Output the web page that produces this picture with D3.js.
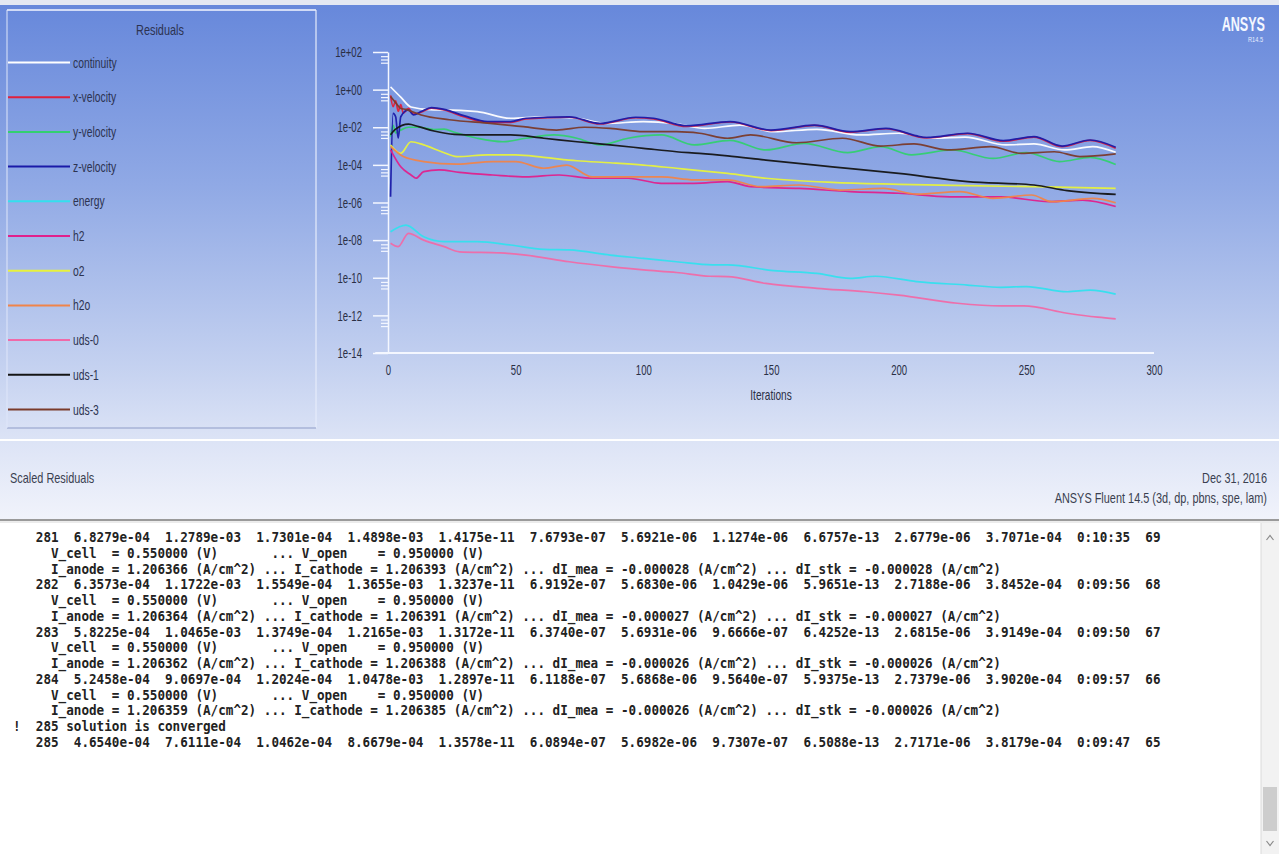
<!DOCTYPE html>
<html><head><meta charset="utf-8">
<script src="https://cdn.jsdelivr.net/npm/d3@7"></script>
<style>html,body{margin:0;padding:0;background:#e6e9f1;overflow:hidden}</style>
</head><body><svg id="c" width="1279" height="854"></svg>
<script>
// ---------- data ----------
const seriesNames = ["continuity","x-velocity","y-velocity","z-velocity","energy","h2","o2","h2o","uds-0","uds-1","uds-3"];
const seriesColors = ["#ffffff","#e0203c","#33d070","#1a1aa8","#33e0ee","#e0208c","#e8f23c","#f0844a","#f06aa8","#141414","#7a3a2a"];

const continuity = [[1,1.4e0],[5,4.0e-1],[9,1.2e-1],[18,8.3e-2],[22,8.3e-2],[35,6.8e-2],[48,3.0e-2],[61,3.6e-2],[74,3.0e-2],[86,1.6e-2],[100,2.0e-2],[113,1.5e-2],[124,8.7e-3],[138,1.3e-2],[151,5.8e-3],[168,7.8e-3],[185,3.9e-3],[200,4.8e-3],[214,2.6e-3],[226,3.0e-3],[242,1.15e-3],[253,1.3e-3],[265,6.2e-4],[276,9.3e-4],[285,4.65e-4]];
const xVelocity = [[1,5.0e-1],[2,1.26e-1],[3,2.5e-1],[4,7.1e-2],[5,1.6e-1],[6,5.6e-2],[8,1.0e-1],[10,5.0e-2],[13,6.3e-2],[17,1.05e-1],[22,8.3e-2],[30,3.5e-2],[39,1.8e-2],[48,1.8e-2],[54,2.75e-2],[71,3.4e-2],[83,1.5e-2],[97,3.2e-2],[104,2.75e-2],[117,1.1e-2],[134,1.9e-2],[150,6.6e-3],[167,1.26e-2],[181,5.4e-3],[195,8.3e-3],[211,2.7e-3],[227,4.6e-3],[241,1.8e-3],[253,3.0e-3],[264,9.3e-4],[275,2.0e-3],[285,7.6e-4]];
const yVelocity = [[1,3.2e-3],[2,1.26e-2],[3,5.0e-3],[5,7.1e-3],[8,1.0e-2],[12,1.0e-2],[18,7.6e-3],[22,7.9e-3],[26,5.4e-3],[35,2.6e-3],[45,1.7e-3],[54,2.6e-3],[65,3.9e-3],[74,2.6e-3],[83,1.15e-3],[94,2.6e-3],[107,3.9e-3],[120,1.15e-3],[134,2.0e-3],[148,6.2e-4],[163,1.4e-3],[180,4.5e-4],[193,9.3e-4],[205,3.4e-4],[221,6.2e-4],[237,2.2e-4],[250,4.5e-4],[263,1.5e-4],[275,2.5e-4],[285,1.05e-4]];
const zVelocity = [[1,2.0e-6],[2,5.5e-2],[3,3.6e-2],[4,2.6e-3],[5,3.6e-2],[8,8.3e-2],[10,4.5e-2],[13,6.8e-2],[17,1.1e-1],[22,8.9e-2],[30,4.0e-2],[39,2.0e-2],[48,2.0e-2],[54,3.0e-2],[71,3.6e-2],[83,1.6e-2],[97,3.4e-2],[104,3.0e-2],[117,1.2e-2],[134,2.0e-2],[150,7.1e-3],[167,1.3e-2],[181,5.8e-3],[195,8.7e-3],[211,2.9e-3],[227,4.8e-3],[241,1.95e-3],[253,3.2e-3],[264,1.0e-3],[275,2.1e-3],[285,8.7e-4]];
const energy = [[1,2.8e-8],[7,6.3e-8],[14,1.5e-8],[22,8.3e-9],[35,8.3e-9],[48,5.5e-9],[61,3.2e-9],[71,3.0e-9],[87,1.6e-9],[100,1.07e-9],[113,7.1e-10],[127,4.8e-10],[133,4.8e-10],[151,2.4e-10],[168,1.7e-10],[181,9.3e-11],[191,1.2e-10],[207,6.2e-11],[227,4.1e-11],[240,3.1e-11],[250,3.4e-11],[266,1.8e-11],[275,2.2e-11],[285,1.36e-11]];
const h2 = [[1,6.3e-4],[5,7.9e-5],[9,2.9e-5],[11,1.95e-5],[14,4.4e-5],[20,5.4e-5],[28,4.0e-5],[41,2.9e-5],[54,2.3e-5],[67,2.9e-5],[80,1.95e-5],[94,1.95e-5],[107,1.05e-5],[120,1.05e-5],[133,1.3e-5],[142,6.9e-6],[161,5.6e-6],[181,3.8e-6],[200,3.1e-6],[220,2.0e-6],[240,2.0e-6],[259,1.1e-6],[272,1.35e-6],[285,6.1e-7]];
const o2 = [[1,1.15e-3],[5,4.1e-4],[9,1.7e-3],[14,1.15e-3],[21,5.0e-4],[27,2.75e-4],[39,3.4e-4],[50,3.4e-4],[61,2.5e-4],[74,1.66e-4],[87,1.3e-4],[100,9.8e-5],[113,6.6e-5],[122,5.0e-5],[133,3.5e-5],[148,1.95e-5],[174,1.17e-5],[200,9.3e-6],[227,7.8e-6],[253,6.9e-6],[285,5.7e-6]];
const h2o = [[1,9.3e-4],[6,2.75e-4],[14,1.5e-4],[27,1.1e-4],[41,1.5e-4],[50,1.5e-4],[61,6.6e-5],[70,9.8e-5],[80,2.3e-5],[94,2.3e-5],[107,2.3e-5],[120,1.6e-5],[133,1.6e-5],[146,6.9e-6],[161,8.5e-6],[177,4.6e-6],[194,5.6e-6],[207,2.8e-6],[224,3.8e-6],[237,1.66e-6],[252,2.5e-6],[260,1.1e-6],[276,1.66e-6],[285,9.7e-7]];
const uds0 = [[1,6.8e-9],[4,4.5e-9],[8,2.3e-8],[14,1.0e-8],[22,4.5e-9],[28,2.4e-9],[44,2.1e-9],[54,1.6e-9],[71,7.1e-10],[87,3.9e-10],[100,2.6e-10],[113,1.9e-10],[126,1.2e-10],[133,1.15e-10],[148,5.0e-11],[168,2.75e-11],[187,1.8e-11],[200,1.2e-11],[223,4.4e-12],[240,3.2e-12],[249,3.2e-12],[266,1.3e-12],[278,8.0e-13],[285,6.5e-13]];
const uds1 = [[1,4.0e-3],[3,7.9e-3],[8,1.45e-2],[12,1.07e-2],[18,6.3e-3],[26,4.2e-3],[35,3.9e-3],[48,3.9e-3],[61,2.6e-3],[74,1.7e-3],[87,1.15e-3],[100,7.6e-4],[113,5.0e-4],[122,4.1e-4],[133,3.0e-4],[148,1.8e-4],[174,7.9e-5],[200,3.5e-5],[227,1.3e-5],[253,8.5e-6],[266,4.3e-6],[285,2.7e-6]];
const uds3 = [[1,4.3e-1],[3,2.0e-1],[5,1.0e-1],[7,8.9e-2],[9,7.1e-2],[13,4.5e-2],[24,2.5e-2],[40,1.6e-2],[53,1.07e-2],[66,7.1e-3],[77,1.0e-2],[87,8.7e-3],[100,5.8e-3],[113,5.8e-3],[122,4.8e-3],[133,2.6e-3],[142,3.9e-3],[160,1.5e-3],[178,2.6e-3],[193,1.0e-3],[206,1.3e-3],[219,6.2e-4],[236,9.3e-4],[248,4.1e-4],[261,5.0e-4],[271,2.75e-4],[285,3.8e-4]];

const yTickValues = [1e2,1e0,1e-2,1e-4,1e-6,1e-8,1e-10,1e-12,1e-14];
const yTickLabels = ["1e+02","1e+00","1e-02","1e-04","1e-06","1e-08","1e-10","1e-12","1e-14"];
const xTickValues = [0,50,100,150,200,250,300];
const xTickLabels = ["0","50","100","150","200","250","300"];

const consoleLines = [
"   281  6.8279e-04  1.2789e-03  1.7301e-04  1.4898e-03  1.4175e-11  7.6793e-07  5.6921e-06  1.1274e-06  6.6757e-13  2.6779e-06  3.7071e-04  0:10:35  69",
"     V_cell  = 0.550000 (V)       ... V_open    = 0.950000 (V)",
"     I_anode = 1.206366 (A/cm^2) ... I_cathode = 1.206393 (A/cm^2) ... dI_mea = -0.000028 (A/cm^2) ... dI_stk = -0.000028 (A/cm^2)",
"   282  6.3573e-04  1.1722e-03  1.5549e-04  1.3655e-03  1.3237e-11  6.9192e-07  5.6830e-06  1.0429e-06  5.9651e-13  2.7188e-06  3.8452e-04  0:09:56  68",
"     V_cell  = 0.550000 (V)       ... V_open    = 0.950000 (V)",
"     I_anode = 1.206364 (A/cm^2) ... I_cathode = 1.206391 (A/cm^2) ... dI_mea = -0.000027 (A/cm^2) ... dI_stk = -0.000027 (A/cm^2)",
"   283  5.8225e-04  1.0465e-03  1.3749e-04  1.2165e-03  1.3172e-11  6.3740e-07  5.6931e-06  9.6666e-07  6.4252e-13  2.6815e-06  3.9149e-04  0:09:50  67",
"     V_cell  = 0.550000 (V)       ... V_open    = 0.950000 (V)",
"     I_anode = 1.206362 (A/cm^2) ... I_cathode = 1.206388 (A/cm^2) ... dI_mea = -0.000026 (A/cm^2) ... dI_stk = -0.000026 (A/cm^2)",
"   284  5.2458e-04  9.0697e-04  1.2024e-04  1.0478e-03  1.2897e-11  6.1188e-07  5.6868e-06  9.5640e-07  5.9375e-13  2.7379e-06  3.9020e-04  0:09:57  66",
"     V_cell  = 0.550000 (V)       ... V_open    = 0.950000 (V)",
"     I_anode = 1.206359 (A/cm^2) ... I_cathode = 1.206385 (A/cm^2) ... dI_mea = -0.000026 (A/cm^2) ... dI_stk = -0.000026 (A/cm^2)",
"!  285 solution is converged",
"   285  4.6540e-04  7.6111e-04  1.0462e-04  8.6679e-04  1.3578e-11  6.0894e-07  5.6982e-06  9.7307e-07  6.5088e-13  2.7171e-06  3.8179e-04  0:09:47  65"
];

const seriesData = [continuity,xVelocity,yVelocity,zVelocity,energy,h2,o2,h2o,uds0,uds1,uds3];

// ---------- drawing ----------
const W = 1279, H = 854;
const FONT = "Liberation Sans, Arial, sans-serif";
const svg = d3.select("#c");
const defs = svg.append("defs");
const g1 = defs.append("linearGradient").attr("id","bg").attr("x1",0).attr("y1",0).attr("x2",0).attr("y2",1);
[[0,"#6788db"],[0.35,"#90a9e5"],[0.7,"#c4d1f0"],[0.85,"#dde4f6"],[1,"#f1f3fb"]].forEach(s=>g1.append("stop").attr("offset",s[0]).attr("stop-color",s[1]));

svg.append("rect").attr("x",0).attr("y",0).attr("width",W).attr("height",H).attr("fill","#e4e8f2");
svg.append("rect").attr("x",0).attr("y",5).attr("width",W).attr("height",515).attr("fill","url(#bg)");

// condensed text: a group at (x,y) squeezed horizontally
function ctext(parent, s, xx, yy, opts){
  const f = opts.f || 0.8;
  const g = parent.append("g").attr("transform",`translate(${xx},${yy}) scale(${f},1)`);
  const t = g.append("text").attr("x",0).attr("y",0)
    .attr("text-anchor",opts.anchor||"start")
    .attr("font-family",opts.family||FONT).attr("font-size",opts.size||13)
    .attr("font-weight",opts.weight||"normal")
    .attr("fill",opts.fill||"#2c3350").text(s);
  return t;
}

// legend box
svg.append("line").attr("x1",7).attr("x2",316).attr("y1",10).attr("y2",10).attr("stroke","#f4f7ff").attr("stroke-width",1.5);
svg.append("line").attr("x1",316).attr("x2",316).attr("y1",10).attr("y2",428).attr("stroke","#e6ecfb").attr("stroke-width",1.2);
svg.append("line").attr("x1",7).attr("x2",316).attr("y1",428).attr("y2",428).attr("stroke","#8d9cc8").attr("stroke-width",1.2);
svg.append("line").attr("x1",7).attr("x2",7).attr("y1",10).attr("y2",428).attr("stroke","#dfe6fa").attr("stroke-width",1);

ctext(svg, "Residuals", 160, 35, {anchor:"middle", size:14, f:0.78, fill:"#2c3350"});

const legendY = d3.scaleLinear().domain([0,10]).range([62.5,409.5]);
const leg = svg.append("g");
seriesNames.forEach((n,i)=>{
  const yy = legendY(i);
  leg.append("line").attr("x1",8).attr("x2",70).attr("y1",yy).attr("y2",yy)
    .attr("stroke",seriesColors[i]).attr("stroke-width",2);
  ctext(leg, n, 73, yy+5, {size:14, f:0.74, fill:"#2c3350"});
});

// scales
const x = d3.scaleLinear().domain([0,300]).range([388,1154]);
const y = d3.scaleLog().domain([1e-14,1e2]).range([353,52]);

// y axis: major
const yf = 0.66;
const yAxis = d3.axisLeft(y).tickValues(yTickValues).tickFormat((d,i)=>yTickLabels[i]).tickSize(15).tickSizeOuter(0).tickPadding(11);
const gy = svg.append("g").attr("transform","translate(388,0)").call(yAxis);
gy.select(".domain").attr("stroke","#f4f7ff").attr("stroke-width",1.5);
gy.selectAll(".tick line").attr("stroke","#f4f7ff").attr("stroke-width",1.5);
gy.selectAll(".tick text").attr("font-family",FONT).attr("font-size",14.5).attr("fill","#2a2f45")
  .each(function(){ const xx = +this.getAttribute("x"); this.setAttribute("x", xx/yf); this.setAttribute("transform",`scale(${yf},1)`); });

// y axis: minor ticks
const minorVals = [];
yTickValues.slice(0,-1).forEach(v=>{ [0.6,0.4,0.27].forEach(m=>minorVals.push(v*m)); });
const gym = svg.append("g").attr("transform","translate(388,0)")
  .call(d3.axisLeft(y).tickValues(minorVals).tickFormat("").tickSize(7).tickSizeOuter(0));
gym.select(".domain").remove();
gym.selectAll(".tick line").attr("stroke","#f4f7ff").attr("stroke-width",1.2);

// x axis
const gx = svg.append("g").attr("transform","translate(0,353)")
  .call(d3.axisBottom(x).tickValues(xTickValues).tickFormat((d,i)=>xTickLabels[i]).tickSize(0).tickPadding(12));
gx.select(".domain").remove();
gx.selectAll(".tick text").attr("font-family",FONT).attr("font-size",14.5).attr("fill","#2a2f45")
  .attr("transform",`scale(${yf},1)`);
svg.append("line").attr("x1",x(-5)).attr("x2",x(300)).attr("y1",353).attr("y2",353).attr("stroke","#f4f7ff").attr("stroke-width",2);

ctext(svg, "Iterations", x(150), 400, {anchor:"middle", size:14, f:0.72, fill:"#2a2f45"});

// series lines
const line = d3.line().x(d=>x(d[0])).y(d=>y(d[1])).curve(d3.curveMonotoneX);
const plot = svg.append("g");
seriesData.forEach((s,i)=>{
  plot.append("path").attr("d",line(s)).attr("fill","none")
    .attr("stroke",seriesColors[i]).attr("stroke-width",1.7).attr("stroke-linejoin","round").attr("opacity",0.95);
});

// ANSYS logo
ctext(svg, "ANSYS", 1265, 31, {anchor:"end", size:21, weight:"bold", f:0.6, fill:"#f4f7ff"});
ctext(svg, "R14.5", 1263, 42, {anchor:"end", size:7, f:0.8, fill:"#e8eeff"});

// separator
svg.append("line").attr("x1",0).attr("x2",W).attr("y1",440).attr("y2",440).attr("stroke","#ffffff").attr("stroke-width",2);

// footer texts
ctext(svg, "Scaled Residuals", 10, 483, {size:14, f:0.78, fill:"#3a3f50"});
ctext(svg, "Dec 31, 2016", 1267, 483, {anchor:"end", size:14, f:0.78, fill:"#3a3f50"});
ctext(svg, "ANSYS Fluent 14.5 (3d, dp, pbns, spe, lam)", 1267, 503, {anchor:"end", size:14, f:0.78, fill:"#3a3f50"});

// console panel
svg.append("rect").attr("x",0).attr("y",520).attr("width",W).attr("height",H-520).attr("fill","#ffffff");
svg.append("line").attr("x1",0).attr("x2",W).attr("y1",520).attr("y2",520).attr("stroke","#9a9a9a").attr("stroke-width",2);
svg.append("line").attr("x1",0).attr("x2",W).attr("y1",522).attr("y2",522).attr("stroke","#d8d8d8").attr("stroke-width",1);
// scrollbar
svg.append("rect").attr("x",1261).attr("y",523).attr("width",18).attr("height",H-523).attr("fill","#f2f2f2");
svg.append("line").attr("x1",1261).attr("x2",1261).attr("y1",523).attr("y2",H).attr("stroke","#dadada");
svg.append("rect").attr("x",1263).attr("y",787).attr("width",14).attr("height",44).attr("fill","#cdcdcd");
svg.append("path").attr("d","M1266.5,540 L1270,535.5 L1273.5,540").attr("fill","none").attr("stroke","#8a8a8a").attr("stroke-width",1.2);
svg.append("path").attr("d","M1266.5,841 L1270,845.5 L1273.5,841").attr("fill","none").attr("stroke","#8a8a8a").attr("stroke-width",1.2);

// console text: monospace, horizontally squeezed so one character cell is 7.6px
const pitch = 7.6, col0 = 13, monoSize = 14, monoAdvance = 0.602 * monoSize;
const cf = pitch / monoAdvance;
const cons = svg.append("g");
consoleLines.forEach((s,i)=>{
  const lead = s.length - s.replace(/^ +/,"").length;
  const body = s.trim();
  cons.append("g").attr("transform",`translate(${col0 + lead*pitch},${542 + i*15.75}) scale(${cf.toFixed(4)},1)`)
    .append("text").attr("x",0).attr("y",0)
    .attr("font-family","DejaVu Sans Mono, Liberation Mono, monospace").attr("font-size",monoSize)
    .attr("font-weight","bold")
    .attr("fill","#222222").attr("xml:space","preserve").style("white-space","pre")
    .text(body);
});
</script></body></html>
